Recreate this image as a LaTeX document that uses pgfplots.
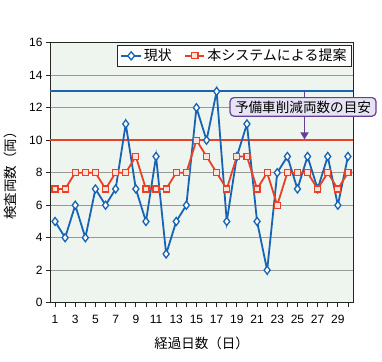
\documentclass[border=0pt]{standalone}
\usepackage{fontspec}
\setmainfont{Liberation Sans}
\newfontfamily\jp{Noto Sans CJK JP}
\usepackage{pgfplots}
\pgfplotsset{compat=1.18}
\usetikzlibrary{arrows.meta}
\definecolor{cblue}{RGB}{24,100,180}
\definecolor{cred}{RGB}{234,64,40}
\definecolor{bgc}{RGB}{238,244,238}
\definecolor{purp}{RGB}{102,62,152}
\definecolor{lav}{RGB}{230,228,244}
\definecolor{mfill}{RGB}{252,226,216}
\begin{document}
\begin{tikzpicture}[x=1pt,y=1pt]
\useasboundingbox (-50,-59) rectangle (332,302.7);
\begin{axis}[
  at={(0,0)}, anchor=south west,
  scale only axis, width=303pt, height=260pt,
  xmin=0.5, xmax=30.5, ymin=0, ymax=16,
  axis background/.style={fill=bgc},
  axis line style={black!85, line width=1pt},
  ytick={0,2,...,16},
  xtick={1,3,...,29},
  minor xtick={2,4,...,30},
  tick align=outside,
  major tick length=4pt, minor tick length=4pt,
  tick style={black!85, line width=0.9pt},
  xtick pos=lower, ytick pos=left,
  ymajorgrids, grid style={black!40, line width=0.9pt},
  /pgf/number format/assume math mode=true,
  tick label style={font=\fontsize{12}{12}\selectfont},
  xticklabel style={yshift=-5pt},
  xlabel={\jp 経過日数（日）},
  ylabel={\jp 検査両数（両）},
  label style={font=\jp\fontsize{13.5}{13.5}\selectfont},
  xlabel style={yshift=-6pt},
  ylabel style={yshift=5pt},
  clip=false,
  legend style={at={(rel axis cs:1,1)}, anchor=north east, xshift=-1pt, yshift=-2pt,
    draw=black!85, line width=1pt, fill=white,
    font=\jp\fontsize{14}{14}\selectfont, inner ysep=2pt,
    /tikz/every even column/.append style={column sep=10pt}},
  legend image post style={xscale=1.15},
  legend columns=2,
]
\addplot[cblue, line width=2pt, forget plot] coordinates {(0.5,13) (30.5,13)};
\addplot[cred, line width=2pt, forget plot] coordinates {(0.5,10) (30.5,10)};
\addplot[cblue, line width=1.8pt, mark=diamond*, mark size=4pt,
  mark options={fill=white, line width=1.3pt}] coordinates {
(1,5)(2,4)(3,6)(4,4)(5,7)(6,6)(7,7)(8,11)(9,7)(10,5)
(11,9)(12,3)(13,5)(14,6)(15,12)(16,10)(17,13)(18,5)(19,9)(20,11)
(21,5)(22,2)(23,8)(24,9)(25,7)(26,9)(27,7)(28,9)(29,6)(30,9)};
\addlegendentry{現状}
\addplot[cred, line width=1.8pt, mark=square*, mark size=3pt,
  mark options={fill=mfill, line width=1.2pt}] coordinates {
(1,7)(2,7)(3,8)(4,8)(5,8)(6,7)(7,8)(8,8)(9,9)(10,7)
(11,7)(12,7)(13,8)(14,8)(15,10)(16,9)(17,8)(18,7)(19,9)(20,9)
(21,7)(22,8)(23,6)(24,8)(25,8)(26,8)(27,7)(28,8)(29,7)(30,8)};
\addlegendentry{本システムによる提案}
\draw[purp, line width=1.6pt, -{Triangle[length=7pt,width=8pt]}] (axis cs:25.7,13) -- (axis cs:25.7,10.05);
\node[draw=purp, fill=lav, rounded corners=4pt, line width=1.2pt,
  font=\jp\fontsize{13.6}{13.6}\selectfont, inner xsep=5pt, inner ysep=3pt] at (axis cs:25.55,12.05) {予備車削減両数の目安};
\end{axis}
\end{tikzpicture}
\end{document}
